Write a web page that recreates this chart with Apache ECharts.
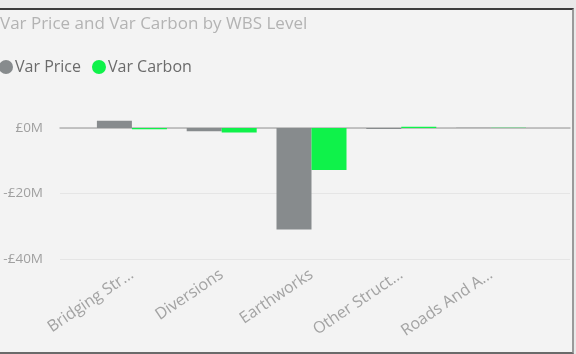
<!DOCTYPE html>
<html>
<head>
<meta charset="utf-8">
<script src="https://cdn.jsdelivr.net/npm/echarts@6/dist/echarts.min.js"></script>
<style>
  html, body { margin: 0; padding: 0; background: #e9e9e9; }
  #frame {
    position: absolute; left: 0; top: 8px; width: 572px; height: 342px;
    background: #f3f3f3;
    border-top: 2px solid #3a3a3a;
    border-right: 2px solid #9a9a9a;
    border-bottom: 2px solid #6a6a6a;
  }
  #chart { position: absolute; left: 0; top: 0; width: 576px; height: 354px; }
</style>
</head>
<body>
<div id="frame"></div>
<div id="chart"></div>
<script>
// WBS levels (labels as truncated in the report)
const categories = ['Bridging Str\u2026', 'Diversions', 'Earthworks', 'Other Struct\u2026', 'Roads And A\u2026'];
// values in £M
const varPrice = [2.2, -1.0, -31.0, -0.3, 0.1];
const varCarbon = [-0.4, -1.4, -12.8, 0.4, 0.05];
const yMin = -40;
const yMax = 10;
const yStep = 20;

const chart = echarts.init(document.getElementById('chart'));

const fontFamily = "'Segoe UI', 'Open Sans', sans-serif";

chart.setOption({
  animation: false,
  backgroundColor: 'transparent',
  title: {
    text: 'Var Price and Var Carbon by WBS Level',
    left: -5,
    top: 11,
    textStyle: { fontFamily, fontSize: 17, fontWeight: 'normal', color: '#b3b3b3' }
  },
  legend: {
    left: -6,
    top: 54,
    icon: 'circle',
    itemWidth: 14,
    itemHeight: 14,
    itemGap: 11,
    textStyle: { fontFamily, fontSize: 16, color: '#6b6b6b', padding: [0, 0, 0, -3] },
    data: ['Var Price', 'Var Carbon']
  },
  grid: [
    { left: 60, right: 6, top: 95.25, bottom: 95 },
    { left: 87, right: 40, top: 95.25, bottom: 95 }
  ],
  xAxis: [
    {
      gridIndex: 0, type: 'category', data: [''],
      axisLine: { show: true, onZero: true, lineStyle: { color: '#b3b3b3', width: 1.5 } },
      axisTick: { show: false }, axisLabel: { show: false }
    },
    {
      gridIndex: 1, type: 'category', data: categories,
      axisLine: { show: false }, axisTick: { show: false },
      axisLabel: {
        interval: 0, rotate: 34, margin: 14,
        fontFamily, fontSize: 16, color: '#a3a3a3'
      }
    }
  ],
  yAxis: [
    {
      gridIndex: 0, type: 'value', min: yMin, max: yMax, interval: yStep,
      axisLine: { show: false }, axisTick: { show: false },
      axisLabel: {
        showMaxLabel: false, margin: 17,
        fontFamily, fontSize: 13.5, color: '#a0a0a0',
        formatter: v => (v < 0 ? '-£' + Math.abs(v) : '£' + v) + 'M'
      },
      splitLine: { show: true, showMaxLine: false, lineStyle: { color: '#e5e5e5', width: 1 } }
    },
    {
      gridIndex: 1, type: 'value', min: yMin, max: yMax, interval: yStep,
      show: false, splitLine: { show: false }
    }
  ],
  series: [
    {
      name: 'Var Price', type: 'bar', xAxisIndex: 1, yAxisIndex: 1,
      data: varPrice, barWidth: 35, barGap: '0%',
      itemStyle: { color: '#878b8d' }
    },
    {
      name: 'Var Carbon', type: 'bar', xAxisIndex: 1, yAxisIndex: 1,
      data: varCarbon, barWidth: 35, barGap: '0%',
      itemStyle: { color: '#0ff24a' }
    }
  ]
});
</script>
</body>
</html>
